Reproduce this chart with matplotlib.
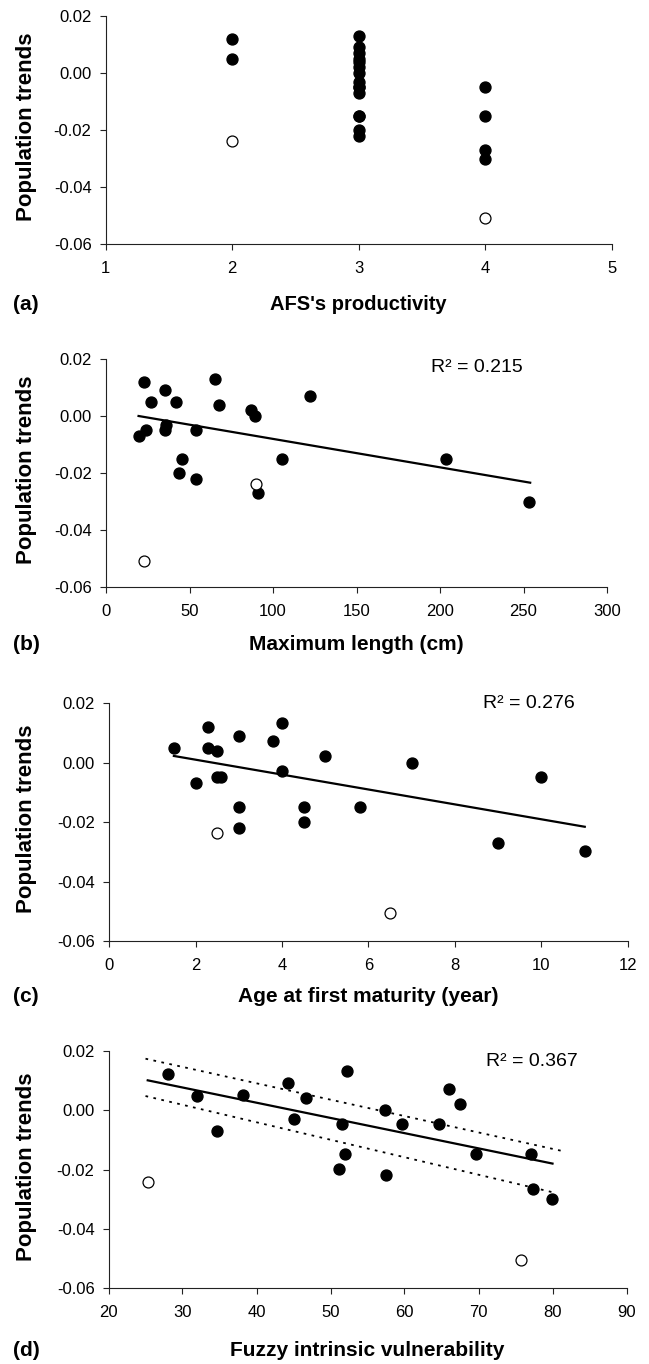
import matplotlib
matplotlib.use('Agg')
import matplotlib.pyplot as plt
from matplotlib.ticker import FormatStrFormatter

plt.rcParams['font.family'] = ['Liberation Sans', 'DejaVu Sans']
plt.rcParams['axes.unicode_minus'] = False

# ---------------- data ----------------
# (a) AFS's productivity
a_x_filled = [2, 2] + [3] * 15 + [4] * 4
a_y_filled = [0.012, 0.005,
              0.013, 0.009, 0.007, 0.005, 0.004, 0.002, 0.000, -0.003, -0.005,
              -0.005, -0.007, -0.015, -0.015, -0.020, -0.022,
              -0.005, -0.015, -0.027, -0.030]
a_x_open = [2, 4]
a_y_open = [-0.024, -0.051]

# (b) Maximum length (cm)
b_x_filled = [23, 65.4, 35.4, 26.7, 41.9, 67.4, 122.3, 87.1, 89.1, 19.5, 24.2,
              35.4, 36.2, 53.7, 45.7, 43.7, 53.9, 105.6, 91.1, 203.6, 253]
b_y_filled = [0.012, 0.013, 0.009, 0.005, 0.005, 0.004, 0.007, 0.002, 0.000,
              -0.007, -0.005, -0.005, -0.003, -0.005, -0.015, -0.020, -0.022,
              -0.015, -0.027, -0.015, -0.030]
b_x_open = [89.6, 22.5]
b_y_open = [-0.024, -0.051]
b_fit_x = [19.5, 254]
b_fit_y = [0.0000, -0.0234]
b_r2 = "R\u00b2 = 0.215"

# (c) Age at first maturity (year)
c_x_filled = [1.5, 2.3, 2.3, 2.5, 2.0, 2.5, 2.6, 3.0, 3.0, 3.0, 3.8, 4.0, 4.0,
              5.0, 4.5, 4.5, 5.8, 7.0, 10.0, 9.0, 11.0]
c_y_filled = [0.005, 0.012, 0.005, 0.004, -0.007, -0.005, -0.005, 0.009, -0.015,
              -0.022, 0.0073, 0.0133, -0.0027, 0.0023, -0.015, -0.020, -0.015,
              0.000, -0.005, -0.027, -0.0297]
c_x_open = [2.5, 6.5]
c_y_open = [-0.0236, -0.0507]
c_fit_x = [1.5, 11.0]
c_fit_y = [0.0022, -0.0216]
c_r2 = "R\u00b2 = 0.276"

# (d) Fuzzy intrinsic vulnerability
d_x_filled = [28.0, 31.9, 34.6, 38.2, 44.3, 45.0, 46.7, 52.2, 51.5, 51.9, 51.2,
              57.3, 57.5, 59.7, 64.7, 66.0, 67.5, 69.7, 77.1, 77.3, 79.9]
d_y_filled = [0.0124, 0.0049, -0.0071, 0.0051, 0.0093, -0.0028, 0.0040, 0.0133,
              -0.0047, -0.0148, -0.0199, 0.0000, -0.0217, -0.0047, -0.0047,
              0.0073, 0.0021, -0.0148, -0.0147, -0.0267, -0.0300]
d_x_open = [25.3, 75.8]
d_y_open = [-0.0242, -0.0507]
d_fit_x = [25.3, 80.0]
d_fit_y = [0.0101, -0.0180]
d_up_x = [25.0, 81.4]
d_up_y = [0.0174, -0.0138]
d_lo_x = [25.0, 80.4]
d_lo_y = [0.0048, -0.0279]
d_r2 = "R\u00b2 = 0.367"

y_ticks = [-0.06, -0.04, -0.02, 0.00, 0.02]

# ---------------- layout ----------------
W, H = 649, 1364
fig = plt.figure(figsize=(W / 100, H / 100), dpi=100)


def px_axes(l, r, t, b):
    return fig.add_axes([l / W, 1 - b / H, (r - l) / W, (b - t) / H])


def style(ax, xlim, xticks):
    ax.set_xlim(*xlim)
    ax.set_ylim(-0.06, 0.02)
    ax.set_xticks(xticks)
    ax.set_yticks(y_ticks)
    ax.yaxis.set_major_formatter(FormatStrFormatter('%.2f'))
    for s in ['top', 'right']:
        ax.spines[s].set_visible(False)
    for s in ['left', 'bottom']:
        ax.spines[s].set_linewidth(0.8)
        ax.spines[s].set_color('#222222')
    ax.tick_params(direction='out', length=4, width=0.8, labelsize=12,
                   color='#222222', pad=6)
    ax.tick_params(axis='x', pad=8)
    ax.patch.set_alpha(0)


def points(ax, xf, yf, xo, yo):
    ax.scatter(xf, yf, s=62, c='black', edgecolors='black', zorder=3,
               clip_on=False)
    ax.scatter(xo, yo, s=62, facecolors='white', edgecolors='black',
               linewidths=0.9, zorder=3, clip_on=False)


def labels(box, xlabel, tag, xsize=15):
    l, r, t, b, ly = box
    fig.text(((l + r) / 2) / W, 1 - ly / H, xlabel, ha='center', va='center',
             fontsize=xsize, fontweight='bold')
    fig.text(13 / W, 1 - ly / H, tag, ha='left', va='center',
             fontsize=15, fontweight='bold')
    fig.text(27 / W, 1 - ((t + b) / 2 - 3) / H, 'Population trends',
             ha='center', va='center', rotation=90, fontsize=16,
             fontweight='bold')


boxes = {
    'a': (105.5, 612, 16, 244, 305),
    'b': (106, 607, 359, 587, 645),
    'c': (109, 628, 703, 941, 997),
    'd': (108.5, 626.5, 1051, 1288, 1350),
}

# (a)
bx = boxes['a']
ax = px_axes(*bx[:4])
style(ax, (1, 5), [1, 2, 3, 4, 5])
points(ax, a_x_filled, a_y_filled, a_x_open, a_y_open)
labels(bx, "AFS's productivity", '(a)', xsize=14.5)

# (b)
bx = boxes['b']
ax = px_axes(*bx[:4])
style(ax, (0, 300), [0, 50, 100, 150, 200, 250, 300])
ax.plot(b_fit_x, b_fit_y, color='black', lw=1.6, zorder=2)
points(ax, b_x_filled, b_y_filled, b_x_open, b_y_open)
ax.text(0.648, 0.962, b_r2, transform=ax.transAxes, ha='left', va='center',
        fontsize=14)
labels(bx, 'Maximum length (cm)', '(b)')

# (c)
bx = boxes['c']
ax = px_axes(*bx[:4])
style(ax, (0, 12), [0, 2, 4, 6, 8, 10, 12])
ax.plot(c_fit_x, c_fit_y, color='black', lw=1.6, zorder=2)
points(ax, c_x_filled, c_y_filled, c_x_open, c_y_open)
ax.text(0.721, 0.999, c_r2, transform=ax.transAxes, ha='left', va='center',
        fontsize=14)
labels(bx, 'Age at first maturity (year)', '(c)')

# (d)
bx = boxes['d']
ax = px_axes(*bx[:4])
style(ax, (20, 90), [20, 30, 40, 50, 60, 70, 80, 90])
ax.plot(d_fit_x, d_fit_y, color='black', lw=1.6, zorder=2)
ax.plot(d_up_x, d_up_y, color='black', lw=1.3, ls=(0, (1.5, 3)), zorder=2)
ax.plot(d_lo_x, d_lo_y, color='black', lw=1.3, ls=(0, (1.5, 3)), zorder=2)
points(ax, d_x_filled, d_y_filled, d_x_open, d_y_open)
ax.text(0.728, 0.954, d_r2, transform=ax.transAxes, ha='left', va='center',
        fontsize=14)
labels(bx, 'Fuzzy intrinsic vulnerability', '(d)')

fig.savefig('out.png', dpi=100)
